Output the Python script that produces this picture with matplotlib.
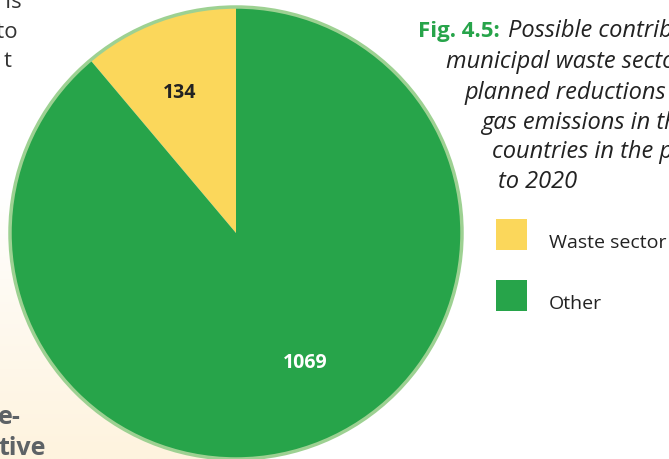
import numpy as np
import matplotlib
matplotlib.use("Agg")
import matplotlib.pyplot as plt
from matplotlib.patches import Circle, Rectangle

plt.rcParams['font.family'] = ['Open Sans', 'DejaVu Sans']

# data
labels = ['Waste sector', 'Other']
values = [134, 1069]
colors = ['#fbd75b', '#27a44a']

caption_head = 'Fig. 4.5:'
caption_lines = ['Possible contribution of the',
                 'municipal waste sector to the',
                 'planned reductions in greenhouse',
                 'gas emissions in the EU-27',
                 'countries in the period',
                 'to 2020']

W, H = 669, 459
fig = plt.figure(figsize=(W/100, H/100), dpi=100)
ax = fig.add_axes([0, 0, 1, 1])

# cream page panel on the left, fading in towards the bottom
grad = np.linspace(0, 1, 256)[:, None, None]
cream = np.array([254, 243, 222]) / 255.
img = np.ones((256, 1, 3)) * (1 - grad) + cream * grad
ax.imshow(img, extent=[0, 236, 0, 270], aspect='auto', zorder=0)

cx, cy, r = 236, 226, 226
wedges, texts = ax.pie(values, colors=colors, startangle=90, counterclock=True,
                       center=(cx, cy), radius=r, frame=True,
                       labels=[str(v) for v in values], labeldistance=0.67,
                       wedgeprops=dict(linewidth=0),
                       textprops=dict(fontsize=14, fontweight='bold', ha='center', va='center'))
texts[0].set_color('#222222')
texts[0].set_position((cx + 0.67*r*np.cos(np.radians(112)), cy + 0.67*r*np.sin(np.radians(112))))
texts[1].set_color('white')
# nudge the big slice label a bit to the right like the original
texts[1].set_position((cx + 0.65*r*np.cos(np.radians(-62)), cy + 0.65*r*np.sin(np.radians(-62))))
for w in wedges:
    w.set_zorder(2)
ax.add_patch(Circle((cx, cy), r, fill=False, edgecolor='#9dd192', lw=2.5, zorder=3))

ax.set_xlim(0, W)
ax.set_ylim(0, H)
ax.set_aspect('auto')
ax.axis('off')

# caption
ax.text(418, H-37, caption_head, color='#27a44a', fontsize=16, fontweight='bold', va='baseline')
xs = [508, 446, 465, 481, 492, 498]
ys = [37, 68, 99, 129, 158, 188]
for s, x, y in zip(caption_lines, xs, ys):
    ax.text(x, H-y, s, color='#222222', fontsize=17, style='italic', va='baseline')

# legend squares
for i, (lab, col) in enumerate(zip(labels, colors)):
    top = 219 + i*61
    ax.add_patch(Rectangle((496, H-top-31), 31, 31, color=col, lw=0))
    ax.text(549, H-top-29, lab, color='#222222', fontsize=14, va='baseline')

# bits of the surrounding page text
for s, x, y in [('it is', 22, 8), ('go to', 18, 38), ('t', 12, 67)]:
    ax.text(x, H-y, s, color='#333333', fontsize=16, ha='right', va='baseline')
ax.text(-2, H-424, 'e-', color='#5d6266', fontsize=18, fontweight='bold', va='baseline')
ax.text(-2, H-455, 'tive', color='#5d6266', fontsize=18, fontweight='bold', va='baseline')

fig.savefig('out.png', dpi=100)
